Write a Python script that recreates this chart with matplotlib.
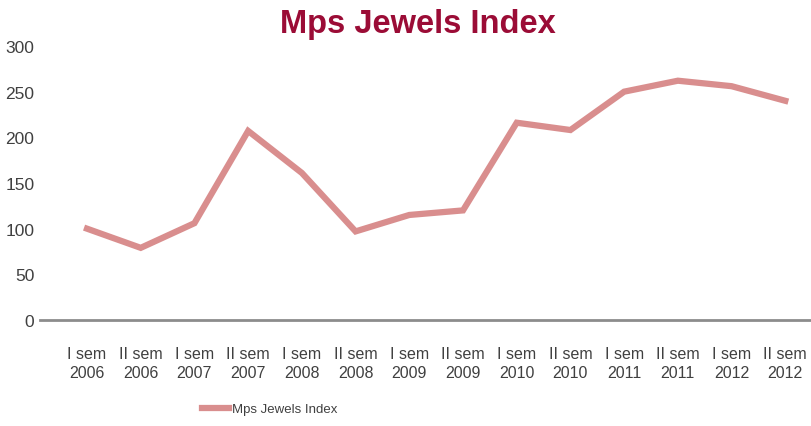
import matplotlib
matplotlib.use('Agg')
import matplotlib.pyplot as plt

# half-year index values
periods = ['I sem\n2006', 'II sem\n2006', 'I sem\n2007', 'II sem\n2007',
           'I sem\n2008', 'II sem\n2008', 'I sem\n2009', 'II sem\n2009',
           'I sem\n2010', 'II sem\n2010', 'I sem\n2011', 'II sem\n2011',
           'I sem\n2012', 'II sem\n2012']
index_values = [100, 79, 106, 207, 161, 97, 115, 120, 216, 208, 250, 262, 256, 240]
yticks = [0, 50, 100, 150, 200, 250, 300]

plt.rcParams['font.family'] = ['Liberation Sans', 'DejaVu Sans']

fig = plt.figure(figsize=(8.11, 4.27), dpi=100)
ax = fig.add_axes([40 / 811, 1 - 321 / 427, 770 / 811, (321 - 47) / 427])

x = list(range(len(periods)))
ax.plot(x, index_values, color='#d98e8e', linewidth=4.5, solid_joinstyle='miter',
        label='Mps Jewels Index')

ax.set_xlim(-0.875, 13.46)
ax.set_ylim(0, 300)
ax.set_yticks(yticks)
ax.set_xticks(x)
ax.set_xticklabels(periods, fontsize=11.5, color='#404040', linespacing=1.3)
ax.tick_params(axis='y', length=0, pad=4, labelsize=12.5, labelcolor='#404040')
ax.tick_params(axis='x', length=0, pad=19)

for side in ['top', 'right', 'left']:
    ax.spines[side].set_visible(False)
ax.spines['bottom'].set_color('#8c8c8c')
ax.spines['bottom'].set_linewidth(2)

fig.text(418 / 811, 1 - 24 / 427, 'Mps Jewels Index', ha='center', va='center',
         fontsize=23.5, fontweight='bold', color='#9b0c36')

fig.legend(loc='center', bbox_to_anchor=(270 / 811, 1 - 410 / 427), frameon=False,
           fontsize=9.5, handlelength=2.0, handletextpad=0.3,
           labelcolor='#404040')

fig.savefig('out.png', dpi=100)
